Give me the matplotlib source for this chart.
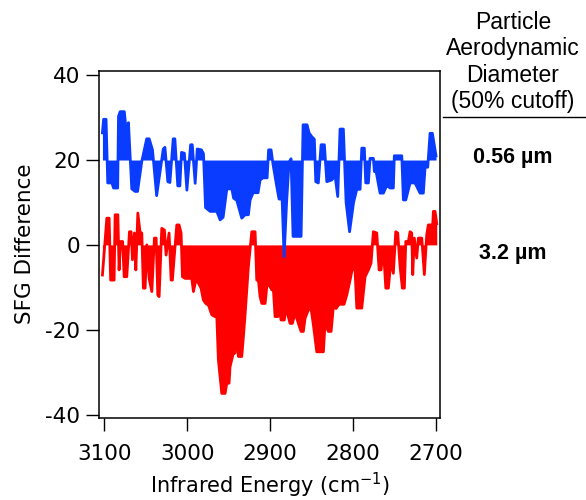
import matplotlib
matplotlib.use('Agg')

import matplotlib.pyplot as plt
from matplotlib.lines import Line2D

plt.rcParams['axes.unicode_minus'] = False

# Difference spectra (wavenumber in cm-1, SFG difference)
blue_x = [3102.4, 3101, 3098, 3096, 3091, 3089, 3084, 3083, 3081, 3076, 3073, 3071,
          3067, 3063, 3060, 3055, 3049, 3046, 3042, 3037, 3029, 3027, 3023.5, 3021,
          3017, 3015, 3011.5, 3009, 3007, 3003.5, 3000.5, 2996, 2994, 2990.5, 2988,
          2983, 2980.5, 2978, 2972.5, 2964.4, 2960.4, 2956.8, 2952.3, 2946.3, 2944.1,
          2940.3, 2934.3, 2930.3, 2926.3, 2924.2, 2920.6, 2914.6, 2912.2, 2908.6,
          2903.7, 2901.9, 2898.9, 2896.5, 2892, 2889.3, 2885.6, 2883.2, 2880.2,
          2877.2, 2874.8, 2872.4, 2862.7, 2860.3, 2855.5, 2853.1, 2849.8, 2846.7,
          2845, 2841.9, 2838.6, 2834.6, 2831.7, 2825.7, 2821.7, 2818.5, 2815.7,
          2811.7, 2808.4, 2804.2, 2799.4, 2795.5, 2791.5, 2789.5, 2786.4, 2784.7,
          2781.5, 2779.5, 2775.5, 2774.3, 2772.2, 2767.4, 2763.4, 2759.3, 2755.4,
          2751.4, 2750.2, 2741.2, 2739.3, 2736.4, 2731.2, 2725.2, 2719.2, 2715.2,
          2713.1, 2709.9, 2707.1, 2704.3, 2701.1, 2699.9]
blue_y = [26.4, 29.6, 29.6, 14.6, 14.6, 13.4, 13.4, 30.3, 31.4, 31.4, 25.5, 28.8,
          13.2, 12.6, 12.6, 19.6, 25, 25, 22.4, 11.6, 22.6, 23, 14.9, 14.7,
          25, 25, 13.9, 13.9, 21.8, 21.6, 12.9, 23.6, 23.6, 14.5, 22.6,
          22.4, 21.5, 8.8, 7.9, 7.9, 5.9, 6.5, 13.2, 13.2, 11,
          10.5, 6.3, 7.1, 7.1, 10.6, 12.3, 12.3, 15.3, 15.8,
          15.8, 22.4, 22.4, 18.9, 13.7, 10.8, 10.8, -2.8, 10,
          19.5, 20.3, 2, 2, 28.3, 28.3, 26.4, 25.5, 24.9,
          14.9, 14.6, 23.6, 23.6, 14.9, 15.3, 16.3, 11.4, 27.3,
          27.3, 10, 3.1, 10, 13.1, 13.1, 22.8, 22.8, 14.6,
          14.6, 20.4, 20.4, 17.3, 17.3, 12.2, 12.2, 14, 13.4,
          13.4, 21, 21, 10.6, 10.6, 14.6, 14.6, 12.2, 12.2,
          18.3, 18.3, 26.3, 26.3, 22.4, 21]

red_x = [3102.4, 3097.1, 3094.3, 3092.5, 3088.3, 3087.1, 3083.8, 3082.3, 3080.5, 3078,
         3076.2, 3073, 3069.8, 3067.8, 3066.2, 3063.8, 3062.1, 3059.7, 3056.9, 3054.9,
         3053, 3050.9, 3048.9, 3046.1, 3042.8, 3039.7, 3037.6, 3035.6, 3034, 3030.8,
         3027.6, 3025.6, 3022, 3019.5, 3018, 3015.6, 3012.7, 3009.9, 3007.5, 3005.9,
         3002.7, 2994.6, 2992.6, 2989.7, 2986.6, 2983.4, 2980.6, 2977.7, 2974.5, 2970.4,
         2966.5, 2964.4, 2962.5, 2958.4, 2954.4, 2952.3, 2949.6, 2948.4, 2944.4, 2942.3,
         2940.3, 2938.4, 2934.3, 2932.3, 2930.3, 2926.3, 2922.2, 2918.2, 2916.2, 2914.2,
         2912.2, 2910.1, 2906.1, 2904.1, 2901.3, 2898.1, 2896.1, 2894.1, 2890.8, 2889.3,
         2886.9, 2882.9, 2881.2, 2878.8, 2876, 2873.2, 2870, 2866, 2862.7, 2860,
         2857.9, 2853.9, 2850.7, 2847.9, 2843.8, 2835.8, 2833.8, 2829.8, 2826.5, 2823.8,
         2820.5, 2816.9, 2810.9, 2807.6, 2803.6, 2800.8, 2797.6, 2795.5, 2789.5, 2785.5,
         2781.5, 2778.3, 2775.5, 2771.4, 2768.6, 2766.2, 2763.4, 2760.5, 2757.4, 2754.2,
         2751.4, 2748.5, 2746.1, 2743.3, 2740.5, 2738.1, 2736.4, 2733.3, 2731.2, 2729.2,
         2728, 2726.1, 2723.2, 2721.2, 2717.1, 2714, 2711.1, 2709.2, 2705.9, 2704.3,
         2703.1, 2701.1, 2699]
red_y = [-7.1, 6.3, 6.3, -8.3, -8.3, 7.1, 7.1, -5.9, 0.8, 0.8,
         -7.5, -7.5, 3.1, 3.1, -3.5, 2.8, -5.9, 7.5, 2.8, 2.8,
         -10.2, -10.2, 0, -7.9, -11, 1.6, 1.6, -11.8, -12.2, 3.9,
         3.5, -2.4, 2.8, -8.3, -8.3, -2.4, 4.7, 4.7, 2.8, -7.5,
         -7.9, -7.9, -11, -8.3, -9, -10.2, -13, -13.8, -14.2, -16.5,
         -16.9, -16.9, -27.1, -35, -35, -32.6, -32.6, -28.7, -25.5, -25.5,
         -19.3, -26.3, -26.3, -21.6, -16.5, -5.1, 3.1, 3.1, -8.3, -8.3,
         -12.2, -13.8, -13.8, -9.8, -9.4, -10.6, -10.6, -16.9, -16.9, -14.6,
         -17.7, -17.7, -14.6, -16.5, -18.5, -18.5, -16, -18.5, -20.4, -20.4,
         -17.3, -15.3, -15, -18.8, -25.2, -25.2, -18.5, -20.4, -20.4, -14.6,
         -15, -14, -14, -11.8, -8.3, -5.5, -6, -14.9, -14.9, -7.5,
         -5.9, -4.3, 3.1, 2.8, -5.9, -5.9, -0.8, -10.2, -10.2, -3.5,
         -6.7, 3.1, 2.8, -5.1, -10.2, -10.2, 0.8, 0.8, 3.1, 2.8,
         -7, 1.6, -3.1, 1.6, 1.6, -7, 2.4, 4.7, 4.7, 3.1,
         7.9, 7.9, 5]

blue_base = 20
red_base = 0
blue_color = '#0a3cff'
red_color = '#ff0000'

fig = plt.figure(figsize=(5.86, 5.0), dpi=100)
ax = fig.add_axes([0.169, 0.164, 0.582, 0.695])

# filled traces, drawn with a thick outline like the original
ax.fill_between(blue_x, blue_base, blue_y, color=blue_color, linewidth=0)
ax.plot(blue_x, blue_y, color=blue_color, linewidth=2.0)
ax.fill_between(red_x, red_base, red_y, color=red_color, linewidth=0)
ax.plot(red_x, red_y, color=red_color, linewidth=2.0)

ax.set_xlim(3106.5, 2695)
ax.set_ylim(-40.8, 41.1)
ax.set_xticks([3100, 3000, 2900, 2800, 2700])
ax.set_yticks([-40, -20, 0, 20, 40])

for s in ax.spines.values():
    s.set_linewidth(1.1)
ax.tick_params(direction='out', length=9.4, width=1.0, labelsize=15.5)
ax.tick_params(axis='x', pad=9)
ax.tick_params(axis='y', pad=4)

fig.text(25 / 586, 0.512, 'SFG Difference', rotation=90, ha='center', va='center', fontsize=15.5)
fig.text(270 / 586, 1 - 485 / 500, 'Infrared Energy (cm$^{-1}$)', ha='center', va='center', fontsize=15)

# Right-hand annotation
fig.text(513 / 586, 1 - 62 / 500, 'Particle\nAerodynamic\nDiameter\n(50% cutoff)',
         ha='center', va='center', fontsize=16.5, family='Liberation Sans', linespacing=1.2)
fig.add_artist(Line2D([443 / 586, 1.0], [1 - 117 / 500, 1 - 117 / 500],
                      color='black', linewidth=1.0))
fig.text(513 / 586, 1 - 157 / 500, '0.56 µm', ha='center', va='center',
         fontsize=15.5, fontweight='bold', family='Liberation Sans')
fig.text(513 / 586, 1 - 253 / 500, '3.2 µm', ha='center', va='center',
         fontsize=15.5, fontweight='bold', family='Liberation Sans')

fig.savefig('out.png', dpi=100)
plt.close(fig)
